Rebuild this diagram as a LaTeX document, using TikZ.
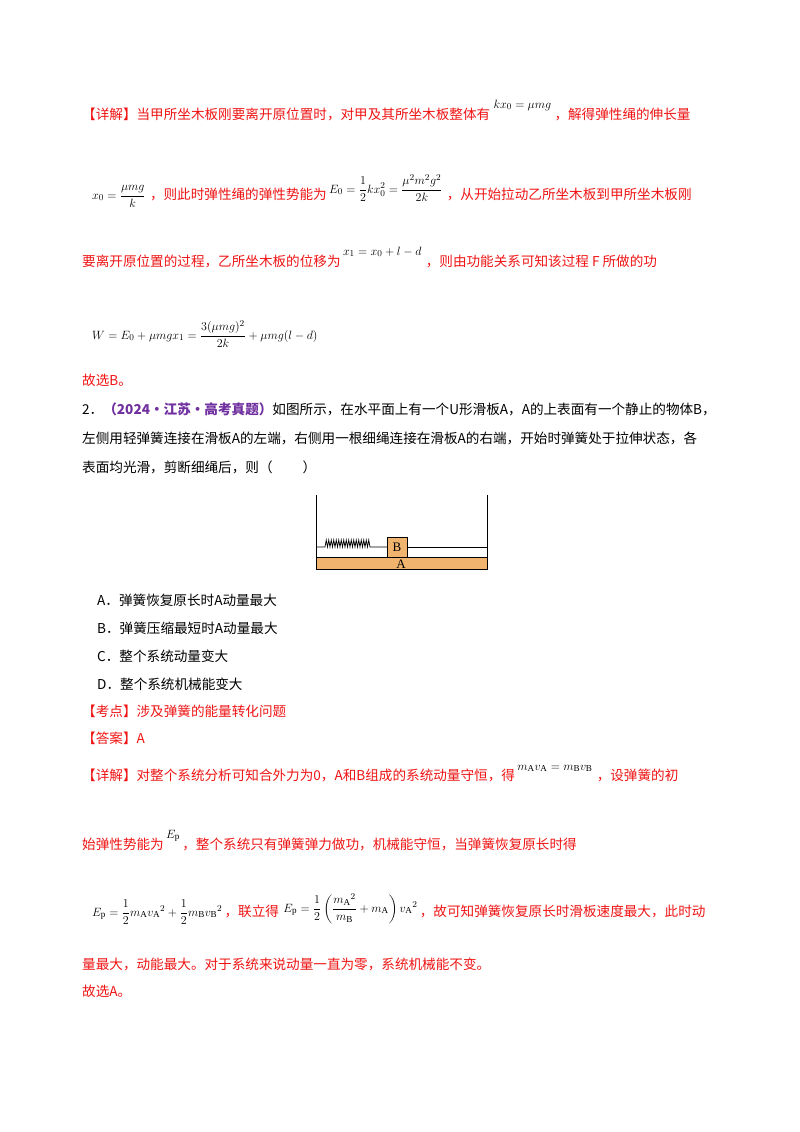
\documentclass[tikz,border=0pt]{standalone}
\usepackage{amsmath}
\usepackage{fontspec}
\setmainfont{Liberation Serif}
\newfontfamily\cjk{Noto Sans CJK SC}
\definecolor{rd}{RGB}{240,20,20}
\definecolor{pp}{RGB}{112,48,160}
\definecolor{plank}{RGB}{240,180,110}
\begin{document}
\begin{tikzpicture}[x=1pt,y=-1pt,
  tx/.style={anchor=base west,inner sep=0pt,font=\fontsize{13.6}{15}\selectfont\cjk},
  red/.style={tx,text=rd},
  fm/.style={anchor=base west,inner sep=0pt,font=\fontsize{13}{15}\selectfont}]
\useasboundingbox[fill=white] (0,0) rectangle (800,1132);
% block 1
\node[red] (l1a) at (82,119) {【详解】当甲所坐木板刚要离开原位置时，对甲及其所坐木板整体有};
\node[fm] (l1b) at ([xshift=3pt,yshift=11pt]l1a.base east) {$kx_0=\mu mg$};
\node[red] (l1c) at ([xshift=3pt]l1a.base east -| l1b.east) {，解得弹性绳的伸长量};
\node[fm] (l2a) at (92,199) {$x_0=\dfrac{\mu mg}{k}$};
\node[red] (l2b) at ([xshift=4pt]l2a.base east) {，则此时弹性绳的弹性势能为};
\node[fm] (l2c) at ([xshift=2pt,yshift=6pt]l2b.base east) {$E_0=\dfrac{1}{2}kx_0^2=\dfrac{\mu^2m^2g^2}{2k}$};
\node[red] (l2d) at ([xshift=4pt]l2b.base east -| l2c.east) {，从开始拉动乙所坐木板到甲所坐木板刚};
\node[red] (l3a) at (82,266) {要离开原位置的过程，乙所坐木板的位移为};
\node[fm] (l3b) at ([xshift=2pt,yshift=11pt]l3a.base east) {$x_1=x_0+l-d$};
\node[red] (l3c) at ([xshift=4pt]l3a.base east -| l3b.east) {，则由功能关系可知该过程 \textit{F} 所做的功};
\node[fm] (l4) at (92,339) {$W=E_0+\mu mgx_1=\dfrac{3(\mu mg)^2}{2k}+\mu mg(l-d)$};
\node[red] (l5) at (82,385) {故选B。};
% question
\node[tx] (q1) at (82,414) {2．{\color{pp}\bfseries（2024·江苏·高考真题）}如图所示，在水平面上有一个U形滑板A，A的上表面有一个静止的物体B，};
\node[tx] (q2) at (82,443) {左侧用轻弹簧连接在滑板A的左端，右侧用一根细绳连接在滑板A的右端，开始时弹簧处于拉伸状态，各};
\node[tx] (q3) at (82,472) {表面均光滑，剪断细绳后，则（\hspace{2.2em}）};
% diagram
\draw[fill=plank,line width=0.8pt] (316,557) rectangle (487,569);
\node[inner sep=0pt,font=\fontsize{13}{14}\selectfont] (A) at (401,564) {A};
\draw[line width=0.8pt] (316,495) -- (316,557);
\draw[line width=0.8pt] (487,495) -- (487,557);
\draw[fill=plank,line width=0.7pt] (387,537) rectangle (407,557);
\node[inner sep=0pt,font=\fontsize{13}{14}\selectfont] (B) at (397,547) {B};
\draw[line width=0.7pt] (316,547) -- (325,547)
  \foreach \i in {0,...,8} { -- ({325+\i*5+1.25},540) -- ({325+\i*5+2.5},547) -- ({325+\i*5+3.75},540) -- ({325+\i*5+5},547)} -- (387,547);
\draw[line width=0.7pt] (407,547) -- (487,547);
% options
\node[tx] (oA) at (97,605) {A．弹簧恢复原长时A动量最大};
\node[tx] (oB) at (97,633) {B．弹簧压缩最短时A动量最大};
\node[tx] (oC) at (97,661) {C．整个系统动量变大};
\node[tx] (oD) at (97,689) {D．整个系统机械能变大};
\node[red] (kd) at (82,716) {【考点】涉及弹簧的能量转化问题};
\node[red] (da) at (82,743) {【答案】A};
\node[red] (x1a) at (82,780) {【详解】对整个系统分析可知合外力为0，A和B组成的系统动量守恒，得};
\node[fm] (x1b) at ([xshift=2pt,yshift=10pt]x1a.base east) {$m_{\mathrm A}v_{\mathrm A}=m_{\mathrm B}v_{\mathrm B}$};
\node[red] (x1c) at ([xshift=4pt]x1a.base east -| x1b.east) {，设弹簧的初};
\node[red] (x2a) at (82,849) {始弹性势能为};
\node[fm] (x2b) at ([xshift=2pt,yshift=11pt]x2a.base east) {$E_{\mathrm p}$};
\node[red] (x2c) at ([xshift=2pt]x2a.base east -| x2b.east) {，整个系统只有弹簧弹力做功，机械能守恒，当弹簧恢复原长时得};
\node[fm] (x3a) at (92,916) {$E_{\mathrm p}=\dfrac12m_{\mathrm A}{v_{\mathrm A}}^2+\dfrac12m_{\mathrm B}{v_{\mathrm B}}^2$};
\node[red] (x3b) at ([xshift=2pt]x3a.base east) {，联立得};
\node[fm] (x3c) at ([xshift=4pt,yshift=4pt]x3b.base east) {$E_{\mathrm p}=\dfrac12\left(\dfrac{{m_{\mathrm A}}^2}{m_{\mathrm B}}+m_{\mathrm A}\right){v_{\mathrm A}}^2$};
\node[red] (x3d) at ([xshift=2pt]x3b.base east -| x3c.east) {，故可知弹簧恢复原长时滑板速度最大，此时动};
\node[red] (x4) at (82,969) {量最大，动能最大。对于系统来说动量一直为零，系统机械能不变。};
\node[red] (x5) at (82,996) {故选A。};
\end{tikzpicture}
\end{document}
